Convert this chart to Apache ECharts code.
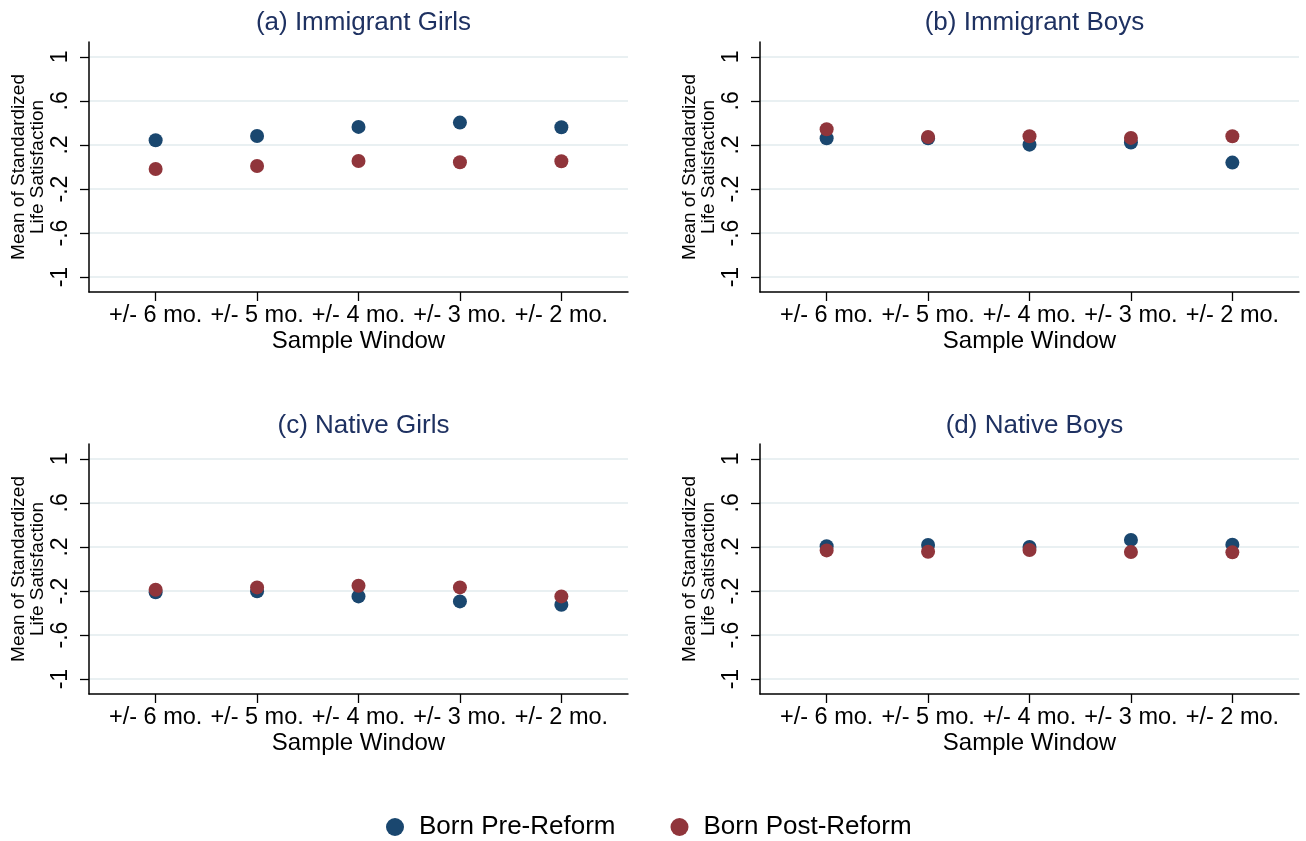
<!DOCTYPE html>
<html>
<head>
<meta charset="utf-8">
<script src="https://cdn.jsdelivr.net/npm/echarts@6/dist/echarts.min.js"></script>
<style>
html,body{margin:0;padding:0;background:#fff;}
#chart{width:1306px;height:841px;}
</style>
</head>
<body>
<div id="chart"></div>
<script>
// ---- data ----
const categories = ['+/- 6 mo.', '+/- 5 mo.', '+/- 4 mo.', '+/- 3 mo.', '+/- 2 mo.'];
const yTickValues = [-1, -0.6, -0.2, 0.2, 0.6, 1];
const yTickLabels = ['-1', '-.6', '-.2', '.2', '.6', '1'];
const panelTitles = ['(a) Immigrant Girls', '(b) Immigrant Boys', '(c) Native Girls', '(d) Native Boys'];
const seriesNames = ['Born Pre-Reform', 'Born Post-Reform'];

const immGirlsPre  = [0.243, 0.282, 0.364, 0.403, 0.361];
const immGirlsPost = [-0.018, 0.009, 0.055, 0.043, 0.052];
const immBoysPre   = [0.261, 0.260, 0.203, 0.222, 0.040];
const immBoysPost  = [0.343, 0.273, 0.279, 0.264, 0.279];
const natGirlsPre  = [-0.212, -0.203, -0.249, -0.294, -0.325];
const natGirlsPost = [-0.188, -0.167, -0.152, -0.167, -0.249];
const natBoysPre   = [0.206, 0.218, 0.200, 0.264, 0.221];
const natBoysPost  = [0.169, 0.157, 0.172, 0.155, 0.151];

const panelData = [
  [immGirlsPre, immGirlsPost],
  [immBoysPre, immBoysPost],
  [natGirlsPre, natGirlsPost],
  [natBoysPre, natBoysPost]
];

// ---- styling / layout ----
const FONT = "'Liberation Sans', Arial, sans-serif";
const colors = ['#1a476f', '#90353b'];
const grids = [
  {left: 89, top: 42, width: 539, height: 250},
  {left: 760, top: 42, width: 539, height: 250},
  {left: 89, top: 444, width: 539, height: 250},
  {left: 760, top: 444, width: 539, height: 250}
];
const titleTops = [5, 5, 408, 408];
const xPositions = categories.map((c, i) => i + 1);

const titles = grids.map((g, i) => ({
  text: panelTitles[i],
  left: g.left + g.width / 2,
  top: titleTops[i],
  textAlign: 'center',
  textStyle: {fontFamily: FONT, fontSize: 26, fontWeight: 'normal', color: '#1e3161'}
}));

const xAxes = grids.map((g, i) => ({
  type: 'value',
  gridIndex: i,
  min: 0.343,
  max: 5.657,
  name: 'Sample Window',
  nameLocation: 'middle',
  nameGap: 35,
  nameTextStyle: {fontFamily: FONT, fontSize: 24, color: '#000'},
  axisLine: {show: true, onZero: false, lineStyle: {color: '#000', width: 1.5}},
  axisTick: {show: true, customValues: xPositions, length: 9, lineStyle: {color: '#000', width: 1.3}},
  axisLabel: {
    customValues: xPositions,
    margin: 12,
    fontFamily: FONT, fontSize: 23.5, color: '#000',
    formatter: v => categories[Math.round(v) - 1]
  },
  splitLine: {show: false}
}));

const yAxes = grids.map((g, i) => ({
  type: 'value',
  gridIndex: i,
  min: -1.135,
  max: 1.135,
  name: 'Mean of Standardized\nLife Satisfaction',
  nameLocation: 'middle',
  nameRotate: 90,
  nameGap: 42,
  nameTextStyle: {fontFamily: FONT, fontSize: 19, lineHeight: 19, color: '#000', align: 'center'},
  axisLine: {show: true, onZero: false, lineStyle: {color: '#000', width: 1.5}},
  axisTick: {show: true, customValues: yTickValues, length: 9, lineStyle: {color: '#000', width: 1.3}},
  axisLabel: {
    customValues: yTickValues,
    rotate: 90,
    margin: 17,
    fontFamily: FONT, fontSize: 23, color: '#000',
    formatter: v => {
      const k = yTickValues.findIndex(t => Math.abs(t - v) < 1e-6);
      return k >= 0 ? yTickLabels[k] : '';
    }
  },
  splitLine: {show: true, lineStyle: {color: '#e9f0f2', width: 2}}
}));

const series = [];
panelData.forEach((pair, gi) => {
  pair.forEach((vals, si) => {
    series.push({
      name: seriesNames[si],
      type: 'scatter',
      xAxisIndex: gi,
      yAxisIndex: gi,
      symbol: 'circle',
      symbolSize: 14,
      itemStyle: {color: colors[si], opacity: 1},
      emphasis: {disabled: true},
      data: vals.map((v, k) => [xPositions[k], v])
    });
  });
});

const chart = echarts.init(document.getElementById('chart'), null, {renderer: 'canvas'});
chart.setOption({
  backgroundColor: '#ffffff',
  animation: false,
  color: colors,
  title: titles,
  grid: grids,
  xAxis: xAxes,
  yAxis: yAxes,
  legend: {
    data: seriesNames,
    left: 386,
    top: 814,
    padding: 0,
    icon: 'circle',
    itemWidth: 18,
    itemHeight: 18,
    itemGap: 55,
    textStyle: {fontFamily: FONT, fontSize: 26, color: '#000', padding: [0, 0, 0, 10]}
  },
  series: series
});
</script>
</body>
</html>
